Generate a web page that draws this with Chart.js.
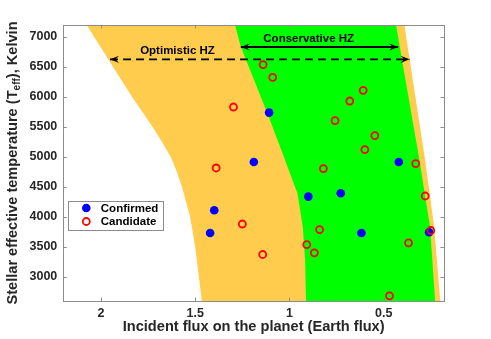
<!DOCTYPE html>
<html>
<head>
<meta charset="utf-8">
<script src="https://cdn.jsdelivr.net/npm/chart.js@4.4.1/dist/chart.umd.min.js"></script>
<style>
  html, body { margin: 0; padding: 0; background: #fff; }
  canvas { display: block; }
</style>
</head>
<body>
<canvas id="myChart" width="491" height="339"></canvas>
<script>
// axis ticks
const fluxTicks = [2, 1.5, 1, 0.5];
const tempTicks = [3000, 3500, 4000, 4500, 5000, 5500, 6000, 6500, 7000];

// habitable zone edges (flux read at a given Teff)
const optInnerTemp = [7200, 6000, 5500, 5250, 5000, 4750, 4500, 4000, 3500, 2600];
const optInnerFlux = [2.076, 1.835, 1.726, 1.676, 1.630, 1.597, 1.570, 1.527, 1.500, 1.465];
const optOuterTemp = [7200, 6640, 4945, 3833, 2600];
const optOuterFlux = [0.390, 0.363, 0.280, 0.232, 0.200];
const consInnerTemp = [7200, 6833, 6167, 5612, 4945, 4395, 3833, 3278, 2600];
const consInnerFlux = [1.289, 1.258, 1.173, 1.103, 1.023, 0.958, 0.929, 0.917, 0.912];
const consOuterTemp = [7200, 6640, 4945, 3833, 2600];
const consOuterFlux = [0.434, 0.404, 0.310, 0.254, 0.227];

// arrows and their labels
const optArrowFlux = [1.952, 0.363];
const optArrowTemp = [6628, 6628];
const consArrowFlux = [1.258, 0.423];
const consArrowTemp = [6833, 6833];
const hzLabels = ['Optimistic HZ', 'Conservative HZ'];
const hzLabelFlux = [1.594, 0.898];
const hzLabelTemp = [6762, 6973];

// planets
const confirmedFlux = [1.108, 1.189, 0.420, 0.900, 0.728, 0.618, 0.259, 1.399, 1.421];
const confirmedTemp = [5740, 4917, 4917, 4340, 4395, 3733, 3745, 4112, 3733];
const candidateFlux = [1.297, 1.389, 1.140, 1.089, 0.609, 0.680, 0.758, 0.547, 0.600, 0.330,
                       0.820, 1.250, 1.142, 0.280, 0.840, 0.908, 0.868, 0.368, 0.469, 0.250];
const candidateTemp = [5833, 4817, 6540, 6328, 6112, 5933, 5607, 5357, 5123, 4890,
                       4807, 3883, 3375, 4350, 3790, 3540, 3403, 3570, 2687, 3775];
const legendOrder = ['Confirmed', 'Candidate'];

const FONT = '"Liberation Sans", Arial, Helvetica, sans-serif';
const INK = '#262626';
const ORANGE = 'rgb(255, 204, 77)';
const GREEN = '#00ff00';

function pts(xs, ys) {
  return xs.map((x, i) => ({ x: x, y: ys[i] }));
}

const orangeShape = pts(optInnerFlux, optInnerTemp).concat(pts(optOuterFlux, optOuterTemp).reverse());
const greenShape = pts(consInnerFlux, consInnerTemp).concat(pts(consOuterFlux, consOuterTemp).reverse());

function arrowHead(ctx, px, py, dir) {
  const L = 9, W = 3.6;
  ctx.beginPath();
  ctx.moveTo(px, py);
  ctx.lineTo(px - dir * L, py - W);
  ctx.lineTo(px - dir * L * 0.6, py);
  ctx.lineTo(px - dir * L, py + W);
  ctx.closePath();
  ctx.fill();
}

const overlay = {
  id: 'overlay',
  afterDatasetsDraw(chart) {
    const ctx = chart.ctx, xs = chart.scales.x, ys = chart.scales.y;
    ctx.save();
    ctx.fillStyle = '#000';
    [[optArrowFlux, optArrowTemp], [consArrowFlux, consArrowTemp]].forEach(([f, t]) => {
      arrowHead(ctx, xs.getPixelForValue(f[0]), ys.getPixelForValue(t[0]), -1);
      arrowHead(ctx, xs.getPixelForValue(f[1]), ys.getPixelForValue(t[1]), 1);
    });
    ctx.font = 'bold 11.5px ' + FONT;
    ctx.fillStyle = '#000';
    ctx.textAlign = 'center';
    ctx.textBaseline = 'middle';
    hzLabels.forEach((s, i) => {
      ctx.fillText(s, xs.getPixelForValue(hzLabelFlux[i]), ys.getPixelForValue(hzLabelTemp[i]));
    });
    ctx.restore();
  },
  afterDraw(chart) {
    const ctx = chart.ctx, xs = chart.scales.x, ys = chart.scales.y, a = chart.chartArea;
    ctx.save();
    // box + inner ticks
    ctx.strokeStyle = '#8c8c8c';
    ctx.lineWidth = 1;
    ctx.strokeRect(Math.round(a.left) + 0.5, Math.round(a.top) + 0.5,
                   Math.round(a.right - a.left), Math.round(a.bottom - a.top));
    const tl = 3.5;
    ctx.beginPath();
    fluxTicks.forEach(v => {
      const px = Math.round(xs.getPixelForValue(v)) + 0.5;
      ctx.moveTo(px, a.bottom); ctx.lineTo(px, a.bottom - tl);
      ctx.moveTo(px, a.top); ctx.lineTo(px, a.top + tl);
    });
    tempTicks.forEach(v => {
      const py = Math.round(ys.getPixelForValue(v)) + 0.5;
      ctx.moveTo(a.left, py); ctx.lineTo(a.left + tl, py);
      ctx.moveTo(a.right, py); ctx.lineTo(a.right - tl, py);
    });
    ctx.stroke();

    // legend
    const lx = a.left + 5, ly = 200.5, lw = 95, lh = 29;
    ctx.fillStyle = '#fff';
    ctx.fillRect(lx, ly, lw, lh);
    ctx.strokeStyle = '#8c8c8c';
    ctx.strokeRect(Math.round(lx) + 0.5, Math.round(ly) + 0.5, lw, lh);
    ctx.font = 'bold 11.5px ' + FONT;
    ctx.textAlign = 'left';
    ctx.textBaseline = 'middle';
    legendOrder.forEach((name, i) => {
      const d = chart.data.datasets.find(s => s.label === name);
      const cy = ly + 7.5 + i * 13.5;
      ctx.beginPath();
      ctx.arc(lx + 18, cy, d.pointRadius, 0, Math.PI * 2);
      if (d.filled) { ctx.fillStyle = d.backgroundColor; ctx.fill(); }
      else { ctx.strokeStyle = d.borderColor; ctx.lineWidth = d.borderWidth; ctx.stroke(); }
      ctx.fillStyle = '#000';
      ctx.fillText(d.label, lx + 32.5, cy + 0.5);
    });

    // axis titles
    ctx.fillStyle = INK;
    ctx.font = 'bold 14.6px ' + FONT;
    ctx.textAlign = 'center';
    ctx.textBaseline = 'middle';
    ctx.fillText('Incident flux on the planet (Earth flux)', (a.left + a.right) / 2, 327);

    const p1 = 'Stellar effective temperature (T', p2 = 'eff', p3 = '), Kelvin';
    const big = 'bold 14.6px ' + FONT, small = 'bold 10px ' + FONT;
    ctx.font = big; const w1 = ctx.measureText(p1).width, w3 = ctx.measureText(p3).width;
    ctx.font = small; const w2 = ctx.measureText(p2).width;
    const total = w1 + w2 + w3;
    ctx.translate(13, (a.top + a.bottom) / 2);
    ctx.rotate(-Math.PI / 2);
    ctx.textAlign = 'left';
    let cx = -total / 2;
    ctx.font = big; ctx.fillText(p1, cx, 0); cx += w1;
    ctx.font = small; ctx.fillText(p2, cx, 4); cx += w2;
    ctx.font = big; ctx.fillText(p3, cx, 0);
    ctx.restore();
  }
};

const ctx = document.getElementById('myChart').getContext('2d');
const myChart = new Chart(ctx, {
  type: 'line',
  data: {
    datasets: [
      {
        label: 'Candidate', filled: false,
        data: pts(candidateFlux, candidateTemp),
        showLine: false, pointStyle: 'circle', pointRadius: 3.5,
        borderColor: '#ff0000', backgroundColor: 'rgba(0,0,0,0)', borderWidth: 1.8,
        order: 0
      },
      {
        label: 'Confirmed', filled: true,
        data: pts(confirmedFlux, confirmedTemp),
        showLine: false, pointStyle: 'circle', pointRadius: 4.3,
        borderColor: '#0000ff', backgroundColor: '#0000ff', borderWidth: 0,
        order: 1
      },
      {
        data: pts(consArrowFlux, consArrowTemp),
        borderColor: '#000', borderWidth: 1.8, pointRadius: 0, fill: false,
        order: 2
      },
      {
        data: pts(optArrowFlux, optArrowTemp),
        borderColor: '#000', borderWidth: 1.8, borderDash: [8, 5], pointRadius: 0, fill: false,
        order: 3
      },
      {
        data: greenShape,
        borderWidth: 0, borderColor: GREEN, backgroundColor: GREEN, pointRadius: 0,
        fill: 'shape', tension: 0,
        order: 4
      },
      {
        data: orangeShape,
        borderWidth: 0, borderColor: ORANGE, backgroundColor: ORANGE, pointRadius: 0,
        fill: 'shape', tension: 0,
        order: 5
      }
    ]
  },
  options: {
    responsive: false,
    devicePixelRatio: 1,
    animation: false,
    events: [],
    layout: { padding: { top: 25, right: 47, left: 0, bottom: 0 } },
    plugins: { legend: { display: false }, tooltip: { enabled: false } },
    scales: {
      x: {
        type: 'linear',
        reverse: true,
        min: 0.18,
        max: 2.2,
        afterBuildTicks: s => { s.ticks = fluxTicks.map(v => ({ value: v })); },
        afterFit: s => { s.height = 38; },
        grid: { display: false, drawTicks: false },
        border: { display: false },
        ticks: {
          padding: 5,
          color: INK,
          font: { family: FONT, size: 12.5, weight: 'bold' },
          callback: v => String(v),
          maxRotation: 0
        }
      },
      y: {
        type: 'linear',
        min: 2600,
        max: 7200,
        afterBuildTicks: s => { s.ticks = tempTicks.map(v => ({ value: v })); },
        afterFit: s => { s.width = 63.3; },
        grid: { display: false, drawTicks: false },
        border: { display: false },
        ticks: {
          padding: 6,
          color: INK,
          font: { family: FONT, size: 12.5, weight: 'bold' },
          callback: v => String(v)
        }
      }
    }
  },
  plugins: [overlay]
});
</script>
</body>
</html>
